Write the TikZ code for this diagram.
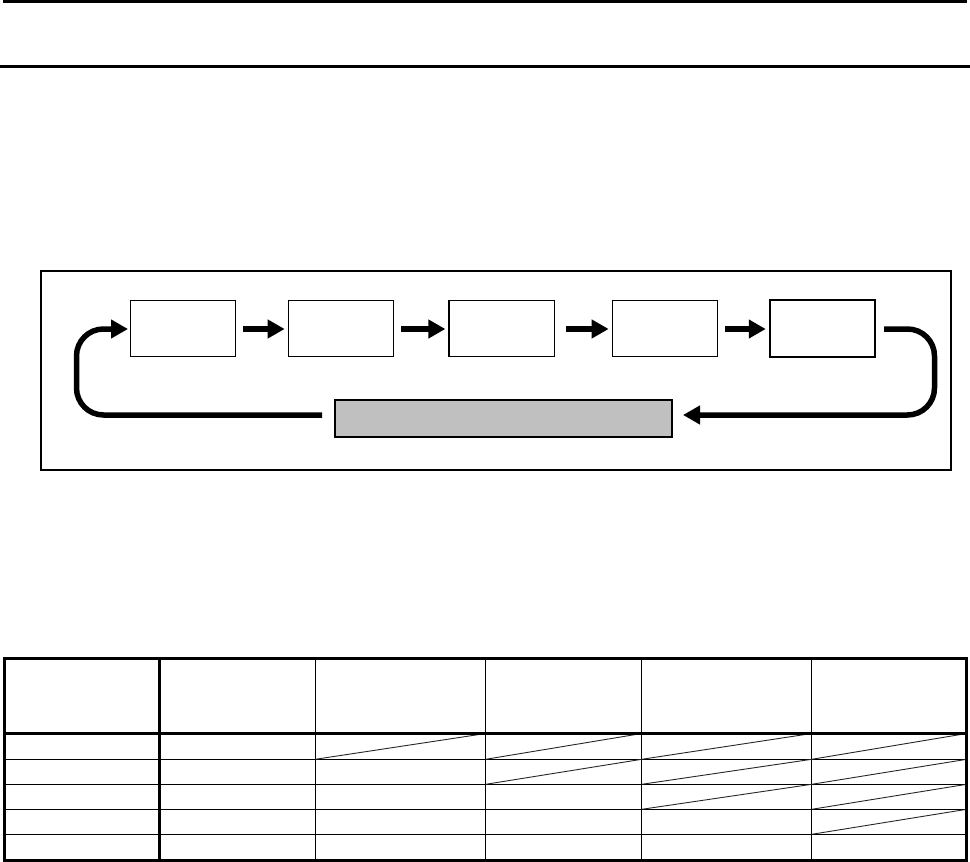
\documentclass[tikz,border=0pt]{standalone}
\usetikzlibrary{arrows.meta}
\definecolor{boxgray}{HTML}{C0C0C0}
\tikzset{
  stepbox/.style={draw, line width=1.2pt, minimum width=105.5pt, minimum height=56.5pt, inner sep=0pt, fill=white},
  graybox/.style={draw, line width=2pt, fill=boxgray, minimum width=336.4pt, minimum height=37pt, inner sep=0pt},
  bar/.style={line width=6pt, -{Triangle[length=17pt,width=18pt]}},
  loopbar/.style={line width=5.5pt, rounded corners=27pt, -{Triangle[length=17pt,width=18pt]}},
  rule/.style={line width=2.6pt},
  thinl/.style={line width=1.3pt},
  thickl/.style={line width=3pt},
  diag/.style={line width=0.9pt, black!85}
}
\begin{document}
\begin{tikzpicture}[x=1pt,y=-1pt]
\useasboundingbox (0,0) rectangle (970,862);
% top rules
\draw[rule] (3,1.2) -- (967,1.2);
\draw[rule] (0,66.3) -- (970,66.3);
% frame
\draw[line width=1.3pt] (41,271) rectangle (951,470);
% step boxes
\node[stepbox] (b1) at (183,328.5) {};
\node[stepbox] (b2) at (341,328.5) {};
\node[stepbox] (b3) at (501.7,328.5) {};
\node[stepbox] (b4) at (665,328.5) {};
\node[stepbox, line width=2pt] (b5) at (822.5,328.5) {};
\node[graybox] (g) at (503.5,418.8) {};
% arrows between steps
\draw[bar, shorten <=7pt, shorten >=3pt] (b1.east |- 0,329) -- (b2.west |- 0,329);
\draw[bar, shorten <=7pt, shorten >=3pt] (b2.east |- 0,329) -- (b3.west |- 0,329);
\draw[bar, shorten <=11pt, shorten >=3pt] (b3.east |- 0,329) -- (b4.west |- 0,329);
\draw[bar, shorten <=7pt, shorten >=3pt] (b4.east |- 0,329) -- (b5.west |- 0,329);
% return loops
\coordinate (rs) at (884,329);
\coordinate (rc) at (934.5,415);
\coordinate (re) at (683,415);
\draw[loopbar] (rs) -| (rc) -- (re);
\coordinate (ls) at (322,415);
\coordinate (lc) at (76.5,415);
\coordinate (le) at (128,329);
\draw[loopbar] (ls) -- (lc) |- (le);
% table
\foreach \y in {759.3,784.3,809.3,834.3}
  \draw[thinl] (4,\y) -- (966.7,\y);
\foreach \x in {315.3,485.7,641.7,811.7}
  \draw[thinl] (\x,658) -- (\x,860);
% diagonals
\draw[diag] (315.3,759.3) -- (485.7,733.5);
\foreach \a/\b in {733.5/759.3,759.3/784.3}
  \draw[diag] (485.7,\b) -- (641.7,\a);
\foreach \a/\b in {733.5/759.3,759.3/784.3,784.3/809.3}
  \draw[diag] (641.7,\b) -- (811.7,\a);
\foreach \a/\b in {733.5/759.3,759.3/784.3,784.3/809.3,809.3/834.3}
  \draw[diag] (811.7,\b) -- (966.7,\a);
% thick table lines
\draw[thickl] (4,733.5) -- (966.7,733.5);
\draw[thickl] (159.3,658) -- (159.3,860);
\draw[thickl] (4,658) rectangle (966.7,860);
\end{tikzpicture}
\end{document}
